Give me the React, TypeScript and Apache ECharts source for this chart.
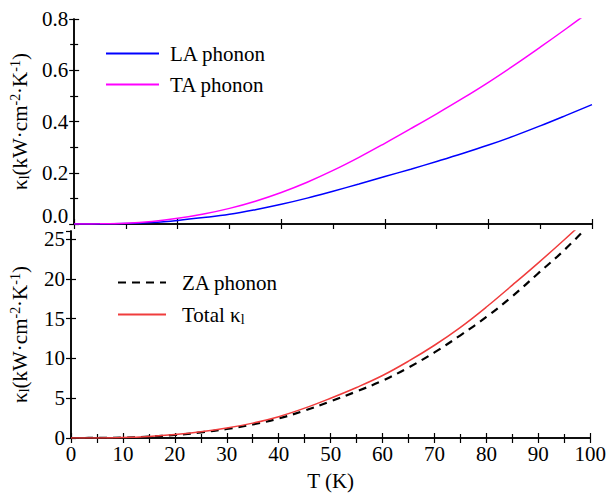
import React, { useEffect, useRef } from "react";
import * as echarts from "echarts";

const temperature = [0, 5, 10, 15, 20, 25, 30, 35, 40, 45, 50, 55, 60, 65, 70, 75, 80, 85, 90, 95, 100];
const laPhonon = [0, 0.0003, 0.002, 0.006, 0.014, 0.025, 0.038, 0.056, 0.077, 0.101, 0.128, 0.156, 0.185, 0.214, 0.244, 0.275, 0.308, 0.344, 0.383, 0.424, 0.466];
const taPhonon = [0, 0.0005, 0.003, 0.010, 0.022, 0.039, 0.061, 0.089, 0.123, 0.163, 0.209, 0.26, 0.315, 0.372, 0.43, 0.49, 0.553, 0.62, 0.69, 0.762, 0.836];
const zaPhonon = [0, 0.01, 0.05, 0.17, 0.38, 0.7, 1.13, 1.7, 2.45, 3.45, 4.6, 5.85, 7.2, 8.85, 10.75, 12.9, 15.2, 17.8, 20.7, 23.6, 26.9];
const totalKappa = [0, 0.01, 0.06, 0.2, 0.44, 0.78, 1.25, 1.87, 2.68, 3.75, 5.0, 6.35, 7.85, 9.65, 11.65, 13.9, 16.45, 19.2, 22.0, 24.9, 27.9];

const FONT = "'Liberation Serif', 'Times New Roman', serif";

export default function App() {
  const ref = useRef<HTMLDivElement>(null);
  useEffect(() => {
    if (!ref.current) return;
    const chart = echarts.init(ref.current, null, { renderer: "svg" });
    const axisLine = { show: true, lineStyle: { color: "#000", width: 1.5 } };
    const tick = () => ({
      show: true,
      inside: true,
      length: 5,
      lineStyle: { color: "#000", width: 1.2 },
    });
    const minor = { show: true, splitNumber: 2, length: 4, lineStyle: { color: "#000", width: 1.2 } };
    const label = { fontFamily: FONT, fontSize: 21, color: "#000" };
    const yName = "κ{sub|l}(kW·cm{sup|-2}·K{sup|-1})";
    const nameStyle = {
      fontFamily: FONT,
      fontSize: 21,
      color: "#000",
      rich: {
        sub: { fontFamily: FONT, fontSize: 14, color: "#000", verticalAlign: "bottom", padding: [9, 0, 0, 0] },
        sup: { fontFamily: FONT, fontSize: 14, color: "#000", verticalAlign: "top", padding: [0, 0, 8, 0] },
      },
    };
    const toPairs = (ys: number[]) => temperature.map((t, i) => [t, ys[i]]);
    chart.setOption({
      animation: false,
      backgroundColor: "#fff",
      textStyle: { fontFamily: FONT },
      grid: [
        { left: 69, top: 19, width: 523, height: 205, containLabel: false },
        { left: 69, top: 231, width: 523, height: 207, containLabel: false },
      ],
      xAxis: [
        { gridIndex: 0, type: "value", position: "bottom", min: 0, max: 100, interval: 20, axisLine, axisTick: tick(), axisLabel: { show: false }, splitLine: { show: false } },
        { gridIndex: 0, type: "value", position: "top", min: 0, max: 100, interval: 10, axisLine, axisTick: tick(), axisLabel: { show: false }, splitLine: { show: false } },
        {
          gridIndex: 1, type: "value", position: "bottom", min: 0, max: 100, interval: 10,
          axisLine, axisTick: tick(), minorTick: minor,
          axisLabel: { ...label, margin: 5 },
          splitLine: { show: false },
          name: "T (K)", nameLocation: "middle", nameGap: 32,
          nameTextStyle: { fontFamily: FONT, fontSize: 21, color: "#000" },
        },
        { gridIndex: 1, type: "value", position: "top", min: 0, max: 100, interval: 5, axisLine, axisTick: tick(), axisLabel: { show: false }, splitLine: { show: false } },
      ],
      yAxis: [
        {
          gridIndex: 0, type: "value", position: "left", min: 0, max: 0.8, interval: 0.2,
          axisLine, axisTick: tick(), minorTick: minor,
          axisLabel: {
            ...label, margin: 6, lineHeight: 16,
            verticalAlignMinLabel: "bottom",
            formatter: (v: number) => v.toFixed(1),
          },
          splitLine: { show: false },
          name: yName, nameLocation: "middle", nameGap: 40, nameRotate: 90,
          nameTextStyle: nameStyle,
        },
        {
          gridIndex: 0, type: "value", position: "right", min: 0, max: 0.8, interval: 0.2,
          axisLine, axisTick: tick(), minorTick: minor,
          axisLabel: { show: false }, splitLine: { show: false },
        },
        {
          gridIndex: 1, type: "value", position: "left", min: 0, max: 26, interval: 5,
          axisLine, axisTick: tick(),
          axisLabel: { ...label, margin: 6 },
          splitLine: { show: false },
          name: yName, nameLocation: "middle", nameGap: 40, nameRotate: 90,
          nameTextStyle: nameStyle,
        },
        {
          gridIndex: 1, type: "value", position: "right", min: 0, max: 26, interval: 5,
          axisLine, axisTick: tick(), axisLabel: { show: false }, splitLine: { show: false },
        },
      ],
      legend: [
        {
          data: ["LA phonon", "TA phonon"],
          orient: "vertical", left: 105, top: 43, padding: 0,
          itemWidth: 53, itemHeight: 20, itemGap: 10,
          itemStyle: { opacity: 0 },
          textStyle: { fontFamily: FONT, fontSize: 21, color: "#000", padding: [0, 0, 0, 6] },
        },
        {
          data: ["ZA phonon", "Total κl"],
          orient: "vertical", left: 117, top: 272, padding: 0,
          itemWidth: 48, itemHeight: 20, itemGap: 11,
          itemStyle: { opacity: 0 },
          formatter: (name: string) => (name === "Total κl" ? "Total κ{sub|l}" : name),
          textStyle: {
            fontFamily: FONT, fontSize: 21, color: "#000", padding: [0, 0, 0, 11],
            rich: { sub: { fontFamily: FONT, fontSize: 14, color: "#000", verticalAlign: "bottom", padding: [9, 0, 0, 0] } },
          },
        },
      ],
      series: [
        { name: "LA phonon", type: "line", xAxisIndex: 0, yAxisIndex: 0, data: toPairs(laPhonon), smooth: 0.4, symbol: "none", clip: true, lineStyle: { color: "#0000ff", width: 1.5 }, itemStyle: { color: "#0000ff" } },
        { name: "TA phonon", type: "line", xAxisIndex: 0, yAxisIndex: 0, data: toPairs(taPhonon), smooth: 0.4, symbol: "none", clip: true, lineStyle: { color: "#ff00ff", width: 1.5 }, itemStyle: { color: "#ff00ff" } },
        { name: "ZA phonon", type: "line", xAxisIndex: 2, yAxisIndex: 2, data: toPairs(zaPhonon), smooth: 0.4, symbol: "none", clip: true, lineStyle: { color: "#000", width: 2.2, type: [8, 6] }, itemStyle: { color: "#000" } },
        { name: "Total κl", type: "line", xAxisIndex: 2, yAxisIndex: 2, data: toPairs(totalKappa), smooth: 0.4, symbol: "none", clip: true, lineStyle: { color: "#f03c3c", width: 1.5 }, itemStyle: { color: "#f03c3c" } },
      ],
    });
    return () => chart.dispose();
  }, []);
  return <div ref={ref} style={{ width: 609, height: 500, position: "absolute", left: 0, top: 0 }} />;
}
